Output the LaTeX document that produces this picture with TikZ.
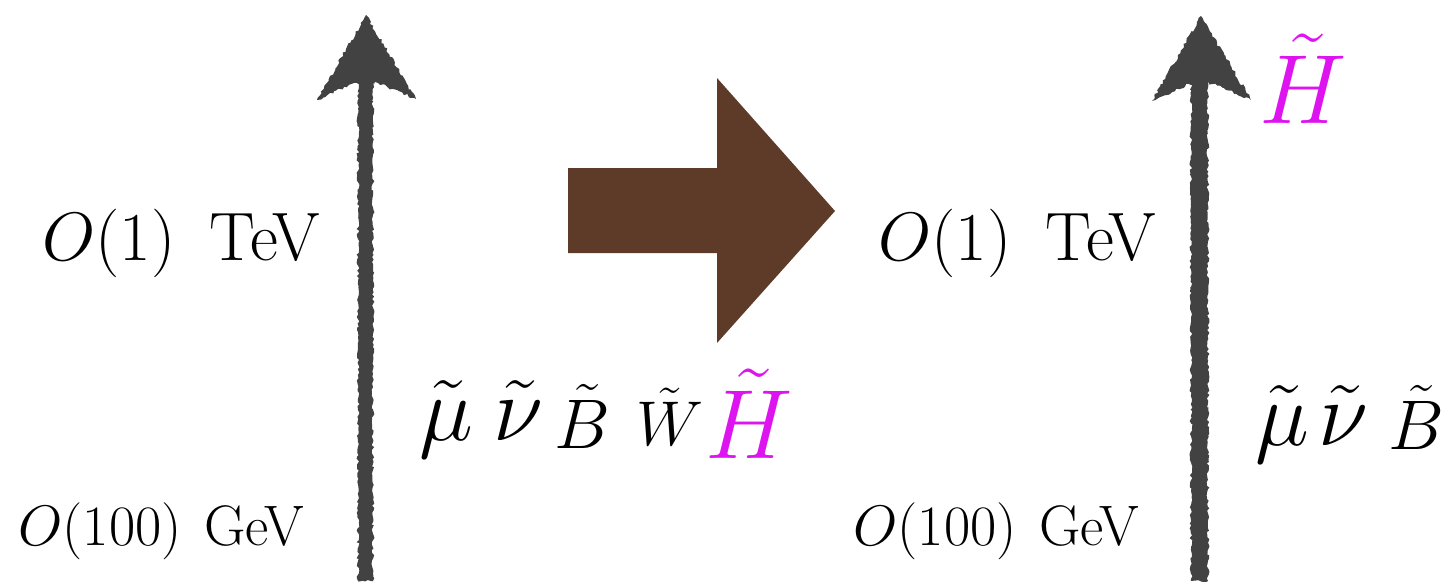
\RequirePackage{fix-cm}
\documentclass[tikz,border=0pt]{standalone}
\usepackage{amsmath}
\usetikzlibrary{calc,decorations.pathmorphing}
\definecolor{chalkGray}{RGB}{66,66,66}
\definecolor{shiftBrown}{RGB}{94,58,40}
\definecolor{higgsPink}{RGB}{222,20,240}

\begin{document}
\begin{tikzpicture}[x=0.02cm, y=-0.02cm,
  chalk/.style={fill=chalkGray, decorate,
                decoration={random steps, segment length=1.5pt, amplitude=0.8pt}},
  enlabel/.style={anchor=base west, inner sep=0pt,
                font=\fontsize{39}{46}\selectfont},
  gevlabel/.style={enlabel, font=\fontsize{32.5}{39}\selectfont},
  spart/.style={anchor=base west, inner sep=0pt,
                font=\fontsize{52}{60}\selectfont},
  gaugino/.style={spart, font=\fontsize{#1}{46}\selectfont},
  higgs/.style={anchor=base west, inner sep=0pt, text=higgsPink,
                font=\fontsize{56}{64}\selectfont}
]
  \useasboundingbox (0,0) rectangle (1449,581);

  % the two energy axes
  \coordinate (Ltop) at (366,15);  \coordinate (Lbot) at (365,581);
  \coordinate (Rtop) at (1201,16); \coordinate (Rbot) at (1198,581);
  \foreach \n in {L,R} {
    \fill[chalk] ($(\n bot)+(-7,0)$) rectangle ($(\n top)+(7,58)$);
    \fill[chalk] (\n top) -- ++(50,84) -- ++(-38,-16) -- ++(-24,0)
      -- ++(-37,17) -- cycle;
  }

  % big shift arrow
  \fill[shiftBrown] (568,168) -- (717,168) -- (717,78) -- (835,211)
    -- (717,343) -- (717,253) -- (568,253) -- cycle;

  % left spectrum
  \node[enlabel]  (tevL) at (42,260) {$O(1)$\hspace{0.5em}TeV};
  \node[gevlabel] (gevL) at (18,545) {$O(100)$\hspace{0.4em}GeV};
  \node[spart] (muL) at (419,440) {$\tilde{\mu}$};
  \node[spart] (nuL) at (493,440) {$\tilde{\nu}$};
  \node[gaugino=40] (bL) at (554,448) {$\tilde{B}$};
  \node[gaugino=36] (wL) at (636,445) {$\tilde{W}$};
  \node[higgs] (hL)  at (705,458) {$\tilde{H}$};

  % right spectrum
  \node[enlabel]  (tevR) at (878,260) {$O(1)$\hspace{0.5em}TeV};
  \node[gevlabel] (gevR) at (853,545) {$O(100)$\hspace{0.4em}GeV};
  \node[higgs] (hR)  at (1259,123) {$\tilde{H}$};
  \node[spart] (muR) at (1255,445) {$\tilde{\mu}$};
  \node[spart] (nuR) at (1318,445) {$\tilde{\nu}$};
  \node[gaugino=40] (bR) at (1388,449) {$\tilde{B}$};
\end{tikzpicture}
\end{document}
